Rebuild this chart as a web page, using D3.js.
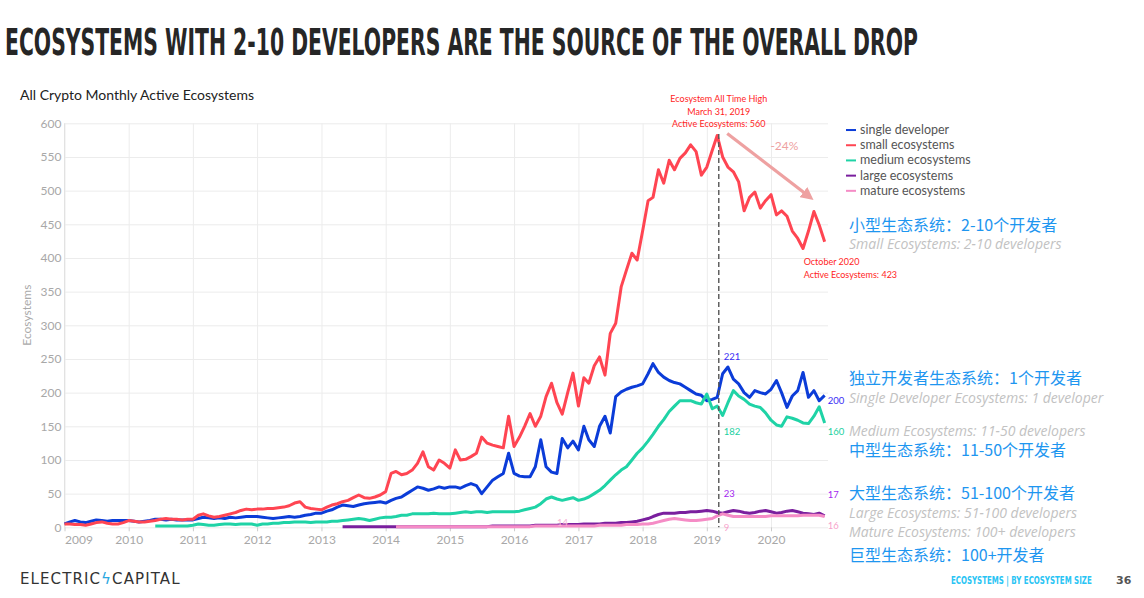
<!DOCTYPE html>
<html>
<head>
<meta charset="utf-8">
<script src="https://cdn.jsdelivr.net/npm/d3@7"></script>
<style>
  body { margin: 0; background: #fff; }
  svg text { font-family: Lato, "Noto Sans", sans-serif; }
  .grid line { stroke: #ececec; }
  .grid path { display: none; }
  .axis path { display: none; }
  .axis line { stroke: #ccc; }
  .axis text { fill: #a8a8a8; font-size: 12px; }
  .cn { font-family: "Noto Sans CJK SC", sans-serif; fill: #1e96f0; font-size: 16px; }
  .en { font-family: "Open Sans", sans-serif; font-style: italic; fill: #c2c2c2; font-size: 14px; }
</style>
</head>
<body>
<svg id="chart" width="1144" height="598"></svg>
<script>
// series, one value per month
var seriesNames = ['single developer', 'small ecosystems', 'medium ecosystems', 'large ecosystems', 'mature ecosystems'];
var seriesColors = ['#0b3cd8', '#ff4552', '#1fd3a6', '#7a1f9e', '#f58cc6'];
var seriesStart = ['2009-01', '2009-01', '2010-06', '2013-05', '2014-03'];

var singleDev = [
  5, 8, 10, 8, 7, 9, 11, 10, 9, 10, 10, 10,
  10, 9, 8, 9, 10, 12, 12, 11, 12, 11, 11, 11,
  11, 13, 15, 14, 13, 14, 13, 15, 14, 15, 16, 16,
  16, 15, 14, 13, 14, 15, 16, 15, 16, 18, 19, 21,
  21, 24, 26, 30, 33, 32, 31, 33, 35, 36, 37, 38,
  36, 40, 43, 45, 50, 55, 60, 58, 55, 57, 60, 58,
  60, 60, 58, 62, 65, 62, 50, 60, 70, 75, 80, 110,
  80, 76, 75, 75, 90, 130, 90, 82, 80, 132, 118, 128,
  115, 150, 130, 120, 150, 165, 140, 194, 201, 205, 208, 210,
  213, 228, 243, 230, 223, 218, 215, 213, 208, 203, 198, 196,
  188, 190, 193, 228, 238, 220, 213, 200, 193, 203, 200, 198,
  205, 218, 200, 178, 195, 203, 230, 193, 203, 188, 196
];
var smallEco = [
  5, 5, 4, 4, 3, 5, 7, 8, 6, 5, 5, 7,
  10, 9, 8, 8, 9, 10, 12, 13, 12, 12, 11, 12,
  12, 18, 20, 17, 15, 16, 18, 20, 22, 25, 27, 26,
  27, 27, 28, 28, 29, 30, 32, 36, 38, 30, 28, 27,
  26, 30, 33, 35, 38, 40, 44, 48, 44, 43, 45, 48,
  53, 80, 83, 78, 80, 85, 95, 112, 90, 85, 100, 95,
  88, 115, 100, 101, 105, 110, 134, 125, 122, 120, 118, 165,
  120, 134, 150, 169, 150, 165, 194, 214, 185, 168, 200, 229,
  180, 222, 214, 240, 253, 226, 288, 303, 357, 382, 407, 397,
  440, 485, 490, 531, 511, 545, 531, 548, 556, 568, 558, 523,
  535, 560, 582, 550, 535, 528, 513, 470, 490, 498, 474, 485,
  494, 464, 470, 462, 440, 429, 414, 440, 469, 449, 424
];
var mediumEco = [
  2, 2, 2, 2, 2, 2, 2,
  3, 5, 4, 3, 3, 4, 5, 5, 4, 5, 5, 5,
  3, 5, 5, 6, 6, 7, 7, 8, 8, 8, 7, 8,
  8, 8, 9, 9, 10, 11, 12, 13, 12, 10, 12, 14,
  15, 15, 16, 18, 18, 20, 20, 20, 20, 21, 20, 20,
  20, 21, 22, 23, 22, 23, 23, 22, 23, 23, 23, 23,
  23, 24, 26, 28, 30, 35, 42, 45, 42, 40, 42, 44,
  40, 42, 45, 50, 55, 62, 70, 78, 85, 90, 100, 110,
  118, 128, 138, 150, 160, 172, 180, 188, 188, 188, 185, 183,
  198, 176, 180, 166, 185, 203, 195, 190, 183, 180, 178, 170,
  159, 152, 150, 164, 162, 159, 155, 154, 165, 179, 155
];
var largeEco = [
  1, 1, 1, 1, 1, 1, 1, 1,
  1, 1, 1, 1, 1, 1, 1, 1, 1, 1, 1, 1,
  1, 1, 1, 1, 1, 1, 1, 1, 2, 2, 2, 2,
  2, 2, 2, 2, 3, 3, 3, 3, 3, 4, 4, 4,
  4, 5, 5, 5, 5, 6, 6, 6, 7, 7, 8, 9,
  11, 13, 16, 19, 21, 21, 21, 22, 22, 23, 23, 24,
  25, 24, 22, 21, 23, 25, 24, 22, 21, 22, 24, 25,
  23, 21, 22, 24, 25, 23, 21, 20, 19, 21, 17
];
var matureEco = [
  1, 1, 1, 1, 1, 1, 1, 1, 1, 1,
  1, 1, 1, 1, 1, 1, 1, 1, 1, 1, 1, 1,
  1, 1, 1, 1, 2, 2, 2, 2, 2, 2, 2, 2,
  2, 2, 2, 2, 3, 3, 3, 3, 3, 4, 4, 4,
  5, 5, 6, 8, 10, 12, 13, 12, 11, 10, 10, 11,
  12, 13, 17, 20, 18, 16, 16, 16, 16, 16, 16, 16,
  17, 17, 17, 17, 17, 17, 18, 18, 18, 18, 16
];

var yTicks = [0, 50, 100, 150, 200, 250, 300, 350, 400, 450, 500, 550, 600];
var xTicks = [2009, 2010, 2011, 2012, 2013, 2014, 2015, 2016, 2017, 2018, 2019, 2020];

// all time high and latest value
var athDate = '2019-03-10';
var athValue = 560;
var lastDate = '2020-11';
var lastValue = 423;
var athLabels = [221, 182, 23, 9];
var endLabels = [200, 160, 17, 16];

var parseMonth = d3.timeParse('%Y-%m');
var parseDay = d3.timeParse('%Y-%m-%d');

var svg = d3.select('#chart');
var margin = {top: 123.3, left: 64.5, right: 316, bottom: 70.7};
var width = 1144, height = 598;

var x = d3.scaleTime()
  .domain([new Date(2009, 0, 1), new Date(2020, 10, 20)])
  .range([margin.left, width - margin.right]);
var y = d3.scaleLinear()
  .domain([0, 600])
  .range([height - margin.bottom, margin.top]);

var allSeries = [singleDev, smallEco, mediumEco, largeEco, matureEco].map(function(vals, i) {
  var start = parseMonth(seriesStart[i]);
  return {
    name: seriesNames[i],
    color: seriesColors[i],
    points: vals.map(function(v, j) {
      return {date: d3.timeMonth.offset(start, j), value: v};
    })
  };
});

// squeeze a text horizontally so it spans the wanted width
function fitText(sel, left, baseline, wanted) {
  var w = sel.node().getComputedTextLength();
  sel.attr('transform', 'translate(' + left + ',' + baseline + ') scale(' + (wanted / w) + ',1)');
}

// title
var title = svg.append('text')
  .style('font-family', '"DejaVu Sans", sans-serif')
  .style('font-weight', 'bold').style('font-size', '37px').style('fill', '#262626')
  .text('ECOSYSTEMS WITH 2-10 DEVELOPERS ARE THE SOURCE OF THE OVERALL DROP');
fitText(title, 5, 55, 913);

svg.append('text')
  .attr('x', 20).attr('y', 100)
  .style('font-size', '14px').style('fill', '#222')
  .text('All Crypto Monthly Active Ecosystems');

// grid lines
svg.append('g')
  .attr('class', 'grid')
  .attr('transform', 'translate(' + margin.left + ',0)')
  .call(d3.axisLeft(y).tickValues(yTicks).tickSize(-(width - margin.right - margin.left)).tickFormat(''));

svg.append('g')
  .attr('class', 'grid')
  .attr('transform', 'translate(0,' + margin.top + ')')
  .call(d3.axisTop(x)
    .tickValues(xTicks.map(function(d) { return new Date(d, 0, 1) }))
    .tickSize(-(height - margin.bottom - margin.top)).tickFormat(''));

svg.append('line')
  .attr('x1', margin.left).attr('x2', margin.left)
  .attr('y1', margin.top).attr('y2', height - margin.bottom)
  .attr('stroke', '#e2e2e2');

// axes
svg.append('g')
  .attr('class', 'axis')
  .attr('transform', 'translate(' + (margin.left - 2) + ',0)')
  .call(d3.axisLeft(y).tickValues(yTicks).tickSize(0).tickPadding(1));

var xAxis = svg.append('g')
  .attr('class', 'axis')
  .attr('transform', 'translate(0,' + (height - margin.bottom) + ')')
  .call(d3.axisBottom(x)
    .tickValues(xTicks.map(function(d) { return new Date(d, 0, 1) }))
    .tickSize(4).tickPadding(4)
    .tickFormat(d3.timeFormat('%Y')));
xAxis.selectAll('.tick text')
  .filter(function(d, i) { return i === 0 })
  .attr('text-anchor', 'start');

svg.append('text')
  .attr('transform', 'translate(31,' + y(315) + ') rotate(-90)')
  .attr('text-anchor', 'middle')
  .style('font-size', '12px').style('fill', '#aaa')
  .text('Ecosystems');

// lines
var line = d3.line()
  .x(function(d) { return x(d.date) })
  .y(function(d) { return y(d.value) });

var drawOrder = [0, 2, 1, 3, 4];
svg.append('g')
  .selectAll('path')
  .data(drawOrder.map(function(i) { return allSeries[i] }))
  .enter()
  .append('path')
  .attr('d', function(d) { return line(d.points) })
  .attr('fill', 'none')
  .attr('stroke', function(d) { return d.color })
  .attr('stroke-width', 3)
  .attr('stroke-linejoin', 'round');

// all time high marker
var athX = x(parseDay(athDate));
svg.append('line')
  .attr('x1', athX).attr('x2', athX)
  .attr('y1', y(584)).attr('y2', y(0))
  .attr('stroke', '#555').attr('stroke-width', 1.4)
  .attr('stroke-dasharray', '5,3');

var athText = svg.append('text')
  .attr('text-anchor', 'middle')
  .style('font-size', '9px').style('fill', '#ff1e1e');
['Ecosystem All Time High', 'March 31, 2019', 'Active Ecosystems: ' + athValue].forEach(function(t, i) {
  athText.append('tspan').attr('x', athX).attr('y', y(600) - 21 + i * 12.5).text(t);
});

var lastText = svg.append('text')
  .style('font-size', '9px').style('fill', '#ff1e1e');
['October 2020', 'Active Ecosystems: ' + lastValue].forEach(function(t, i) {
  lastText.append('tspan')
    .attr('x', x(parseMonth(lastDate)) - 21)
    .attr('y', y(lastValue) + 23 + i * 13).text(t);
});

// arrow
svg.append('defs').append('marker')
  .attr('id', 'arrow')
  .attr('viewBox', '0 0 10 10')
  .attr('refX', 5).attr('refY', 5)
  .attr('markerWidth', 4).attr('markerHeight', 4)
  .attr('orient', 'auto')
  .append('path')
  .attr('d', 'M0,0L10,5L0,10z')
  .attr('fill', '#eea1a1');

svg.append('line')
  .attr('x1', x(parseDay('2019-04-27'))).attr('y1', y(585))
  .attr('x2', x(parseDay('2020-08-01'))).attr('y2', y(492))
  .attr('stroke', '#eea1a1').attr('stroke-width', 3.2)
  .attr('marker-end', 'url(#arrow)');

svg.append('text')
  .attr('x', x(parseDay('2020-03-17'))).attr('y', y(560))
  .attr('text-anchor', 'middle')
  .style('font-size', '12px').style('fill', '#eea1a1')
  .text('-24%');

// value labels at the high and at the end
var labelColors = ['#3a2cf5', '#22d0a0', '#a41ff0', '#f7a3cc'];
var athOffsets = [-22, 27, -18, 6];
var endOffsets = [8, 12, -21, 9];
athLabels.forEach(function(v, i) {
  svg.append('text')
    .attr('x', athX + 5).attr('y', y(v) + athOffsets[i] + 3.5)
    .style('font-size', '9.5px').style('fill', labelColors[i])
    .text(v);
});
endLabels.forEach(function(v, i) {
  svg.append('text')
    .attr('x', x(parseMonth(lastDate)) + 3).attr('y', y(v) + endOffsets[i] + 3.5)
    .style('font-size', '9.5px').style('fill', labelColors[i])
    .text(v);
});
svg.append('text')
  .attr('x', x(parseMonth('2016-09'))).attr('y', y(0) - 1)
  .style('font-size', '9.5px').style('fill', '#f7b3d4')
  .text('14');

// legend
var legend = svg.append('g')
  .attr('transform', 'translate(846,' + y(590) + ')');
var legendRow = legend.selectAll('g')
  .data(allSeries)
  .enter()
  .append('g')
  .attr('transform', function(d, i) { return 'translate(0,' + (i * 15.2) + ')' });
legendRow.append('line')
  .attr('x1', 0).attr('x2', 10)
  .attr('stroke', function(d) { return d.color })
  .attr('stroke-width', 2);
legendRow.append('text')
  .attr('x', 14).attr('y', 4)
  .style('font-size', '12.5px').style('fill', '#555')
  .text(function(d) { return d.name });

// side notes
var notes = [
  ['cn', '小型生态系统：2-10个开发者', 231],
  ['en', 'Small Ecosystems: 2-10 developers', 249],
  ['cn', '独立开发者生态系统：1个开发者', 384],
  ['en', 'Single Developer Ecosystems: 1 developer', 403],
  ['en', 'Medium Ecosystems: 11-50 developers', 436],
  ['cn', '中型生态系统：11-50个开发者', 456],
  ['cn', '大型生态系统：51-100个开发者', 499],
  ['en', 'Large Ecosystems: 51-100 developers', 518],
  ['en', 'Mature Ecosystems: 100+ developers', 537],
  ['cn', '巨型生态系统：100+开发者', 561]
];
svg.append('g')
  .selectAll('text')
  .data(notes)
  .enter()
  .append('text')
  .attr('class', function(d) { return d[0] })
  .attr('x', 849)
  .attr('y', function(d) { return d[2] })
  .text(function(d) { return d[1] });

// footer
var logo = svg.append('text')
  .attr('x', 20).attr('y', 584)
  .style('font-family', '"DejaVu Sans", sans-serif')
  .style('font-size', '15px').style('fill', '#333')
  .style('letter-spacing', '1.1px');
logo.append('tspan').text('ELECTRIC');
logo.append('tspan').style('fill', '#2aa7e0').text('ϟ');
logo.append('tspan').text('CAPITAL');

var footer = svg.append('text')
  .style('font-family', '"DejaVu Sans", sans-serif')
  .style('font-weight', 'bold').style('font-size', '11px').style('fill', '#29c4f4')
  .text('ECOSYSTEMS | BY ECOSYSTEM SIZE');
fitText(footer, 951, 584, 141);

svg.append('text')
  .attr('x', 1116).attr('y', 584)
  .style('font-family', '"DejaVu Sans", sans-serif')
  .style('font-weight', 'bold').style('font-size', '11px').style('fill', '#555')
  .text('36');
</script>
</body>
</html>
